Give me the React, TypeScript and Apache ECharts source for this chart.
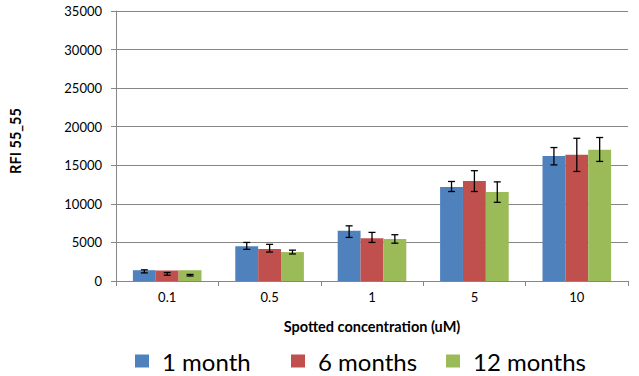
import React, { useEffect, useRef } from "react";
import * as echarts from "echarts";

const categories = ["0.1", "0.5", "1", "5", "10"];
const seriesNames = ["1 month", "6 months", "12 months"];
const oneMonth = [1400, 4500, 6500, 12200, 16200];
const sixMonths = [1350, 4150, 5550, 12950, 16350];
const twelveMonths = [1400, 3750, 5450, 11550, 17000];
const oneMonthLow = [1050, 4100, 5650, 11600, 15050];
const oneMonthHigh = [1450, 5000, 7150, 12900, 17300];
const sixMonthsLow = [750, 3750, 5000, 11600, 14200];
const sixMonthsHigh = [1100, 4750, 6300, 14300, 18500];
const twelveMonthsLow = [650, 3500, 4900, 10200, 15500];
const twelveMonthsHigh = [850, 4000, 6000, 12850, 18600];

const colors = ["#4F81BD", "#C0504D", "#9BBB59"];
const FONT = "Lato";
const CAT_GAP = 0.33;
const legendLefts = [135, 291, 446];

export default function App() {
  const ref = useRef<HTMLDivElement>(null);
  useEffect(() => {
    if (!ref.current) return;
    const chart = echarts.init(ref.current, null, { renderer: "svg" });
    const values = [oneMonth, sixMonths, twelveMonths];
    const lows = [oneMonthLow, sixMonthsLow, twelveMonthsLow];
    const highs = [oneMonthHigh, sixMonthsHigh, twelveMonthsHigh];

    const barSeries = values.map((v, s) => ({
      name: seriesNames[s],
      type: "bar",
      data: v,
      barGap: "0%",
      barCategoryGap: CAT_GAP * 100 + "%",
      itemStyle: { color: colors[s] },
    }));

    const errSeries = lows.map((lo, s) => ({
      type: "custom",
      name: "err" + s,
      z: 10,
      silent: true,
      data: categories.map((_, i) => [i, lo[i], highs[s][i]]),
      encode: { x: 0, y: [1, 2] },
      renderItem: (params: any, api: any) => {
        const cat = api.value(0);
        const pLo = api.coord([cat, api.value(1)]);
        const pHi = api.coord([cat, api.value(2)]);
        const bandW = api.size([1, 0])[0];
        const barW = (bandW * (1 - CAT_GAP)) / 3;
        const x = pLo[0] + (s - 1) * barW;
        const cap = 3.5;
        const style = { stroke: "#000", lineWidth: 1.3 };
        return {
          type: "group",
          children: [
            { type: "line", shape: { x1: x, y1: pLo[1], x2: x, y2: pHi[1] }, style },
            { type: "line", shape: { x1: x - cap, y1: pHi[1], x2: x + cap, y2: pHi[1] }, style },
            { type: "line", shape: { x1: x - cap, y1: pLo[1], x2: x + cap, y2: pLo[1] }, style },
          ],
        };
      },
    }));

    const legends = seriesNames.map((n, i) => ({
      data: [n],
      left: legendLefts[i],
      top: 349,
      padding: 0,
      itemWidth: 14,
      itemHeight: 13,
      icon: "rect",
      textStyle: {
        fontFamily: FONT,
        fontSize: 24,
        color: "#000",
        padding: [0, 0, 0, 8],
      },
    }));

    chart.setOption({
      animation: false,
      textStyle: { fontFamily: FONT },
      grid: { left: 114, right: 11, top: 11, bottom: 95 },
      legend: legends,
      xAxis: {
        type: "category",
        data: categories,
        name: "Spotted concentration (uM)",
        nameLocation: "middle",
        nameGap: 38,
        nameTextStyle: { fontFamily: FONT, fontWeight: "bold", fontSize: 14.5, color: "#000" },
        axisLine: { lineStyle: { color: "#868686" } },
        axisTick: { show: true, length: 5, lineStyle: { color: "#868686" } },
        axisLabel: { fontFamily: FONT, fontSize: 13, color: "#000", margin: 9 },
      },
      yAxis: {
        type: "value",
        min: 0,
        max: 35000,
        interval: 5000,
        name: "RFI 55_55",
        nameLocation: "middle",
        nameGap: 93,
        nameRotate: 90,
        nameTextStyle: {
          fontFamily: FONT,
          fontWeight: "bold",
          fontSize: 14.5,
          color: "#000",
          padding: [0, 0, 0, 10],
        },
        axisLine: { show: true, lineStyle: { color: "#868686" } },
        axisTick: { show: true, length: 5, lineStyle: { color: "#868686" } },
        axisLabel: {
          fontFamily: FONT,
          fontSize: 13,
          color: "#000",
          margin: 14,
          formatter: (v: number) => String(v),
        },
        splitLine: { lineStyle: { color: "#868686" } },
      },
      series: [...barSeries, ...errSeries],
    });
    return () => chart.dispose();
  }, []);
  return (
    <div
      ref={ref}
      style={{ position: "fixed", left: 0, top: 0, width: 639, height: 376, background: "#fff" }}
    />
  );
}
